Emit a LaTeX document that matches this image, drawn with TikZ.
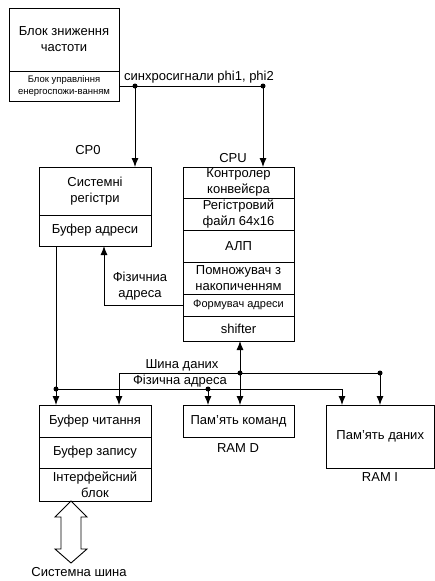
\documentclass[tikz,border=0pt]{standalone}
\usepackage{fontspec}
\setmainfont{Liberation Sans}
\usetikzlibrary{arrows.meta,calc}
\begin{document}
\begin{tikzpicture}[x=1pt,y=-1pt,
 cell/.style={draw, line width=0.9pt, inner sep=0pt, outer sep=0pt, anchor=north west, align=center, font=\fontsize{13}{16}\selectfont},
 small/.style={font=\fontsize{9.5}{12}\selectfont},
 mid/.style={font=\fontsize{11}{13}\selectfont},
 lbl/.style={inner sep=0pt, align=center, font=\fontsize{13}{16}\selectfont},
 conn/.style={line width=0.9pt},
 arr/.style={conn, -{Latex[length=9pt,width=7pt]}},
 darr/.style={conn, {Latex[length=9pt,width=7pt]}-{Latex[length=9pt,width=7pt]}},
 dot/.style={circle, fill, inner sep=0pt, minimum size=5pt}]
\useasboundingbox (0,0) rectangle (435,581);

% top block
\node[cell, minimum width=110pt, minimum height=63pt] (topA) at (9,8) {Блок зниження\\частоти};
\node[cell, small, minimum width=110pt, minimum height=30pt] (topB) at (9,71) {Блок управління\\енергоспожи-ванням};

% sync line
\coordinate (s1) at (135,86);
\coordinate (s2) at (263,86);
\node[lbl, anchor=south west] (synclbl) at (124,83) {синхросигнали phi1, phi2};

% CP0
\node[lbl] (cp0lbl) at (88,150) {CP0};
\node[cell, minimum width=112pt, minimum height=48pt] (cp0a) at (39,167) {Системні\\регістри};
\node[cell, minimum width=112pt, minimum height=31pt] (cp0b) at (39,215) {Буфер адреси};

% CPU
\node[lbl] (cpulbl) at (233,158) {CPU};
\node[cell, minimum width=111pt, minimum height=31pt] (cpu1) at (183,167) {Контролер\\конвейєра};
\node[cell, minimum width=111pt, minimum height=32pt] (cpu2) at (183,198) {Регістровий\\файл 64x16};
\node[cell, minimum width=111pt, minimum height=32pt] (cpu3) at (183,230) {АЛП};
\node[cell, minimum width=111pt, minimum height=32pt] (cpu4) at (183,262) {Помножувач з\\накопиченням};
\node[cell, mid, minimum width=111pt, minimum height=22pt] (cpu5) at (183,294) {Формувач адреси};
\node[cell, minimum width=111pt, minimum height=25pt] (cpu6) at (183,316) {shifter};

\node[lbl] (palbl) at (140,286) {Фізичниа\\адреса};

% lower blocks
\node[cell, minimum width=112pt, minimum height=32pt] (buf1) at (39,405) {Буфер читання};
\node[cell, minimum width=112pt, minimum height=31pt] (buf2) at (39,437) {Буфер запису};
\node[cell, minimum width=112pt, minimum height=33pt] (buf3) at (39,468) {Інтерфейсний\\блок};

\node[cell, minimum width=111pt, minimum height=32pt] (pk) at (183,405) {Пам'ять команд};
\node[lbl] (ramd) at (238,448) {RAM D};

\node[cell, minimum width=108.5pt, minimum height=63pt] (ramI) at (326,405) {Пам'ять даних};
\node[lbl] (rami) at (380,477) {RAM I};

\node[lbl] (dblbl) at (182,365) {Шина даних};
\node[lbl] (fablbl) at (180,381) {Фізична адреса};
\node[lbl] (sblbl) at (79,572) {Системна шина};

% bus coordinates
\coordinate (pa0) at (56,389);
\coordinate (pa1) at (208,389);
\coordinate (pa2) at (342,389);
\coordinate (db0) at (119,373);
\coordinate (db1) at (240,373);
\coordinate (db2) at (380,373);
\coordinate (fx) at (104,305);

% connectors
\draw[conn] (topB.east |- s1) -- (s2);
\draw[arr] (s1) -- (s1 |- cp0a.north);
\draw[arr] (s2) -- (s2 |- cpu1.north);
\draw[arr] (cpu5.west) -| (fx |- cp0b.south);

\draw[conn] (pa0 |- cp0b.south) -- (pa0);
\draw[arr] (pa0) -- (pa0 |- buf1.north);
\draw[conn] (pa0) -- (pa2);
\draw[arr] (pa2) -- (pa2 |- ramI.north);
\draw[arr] (pa1) -- (pa1 |- pk.north);

\draw[conn] (db0) -- (db2);
\draw[arr] (db0) -- (db0 |- buf1.north);
\draw[arr] (db2) -- (db2 |- ramI.north);
\draw[darr] (db1 |- cpu6.south) -- (db1 |- pk.north);

\node[dot] (d1) at (s1) {};
\node[dot] (d2) at (s2) {};
\node[dot] (d3) at (pa0) {};
\node[dot] (d4) at (pa1) {};
\node[dot] (d5) at (db1) {};
\node[dot] (d6) at (db2) {};

% system bus double arrow
\draw[conn, fill=white] (71,501) -- (87,517) -- (81,517) -- (81,549) -- (87,549) -- (71,563)
  -- (55,549) -- (61,549) -- (61,517) -- (55,517) -- cycle;
\end{tikzpicture}
\end{document}
